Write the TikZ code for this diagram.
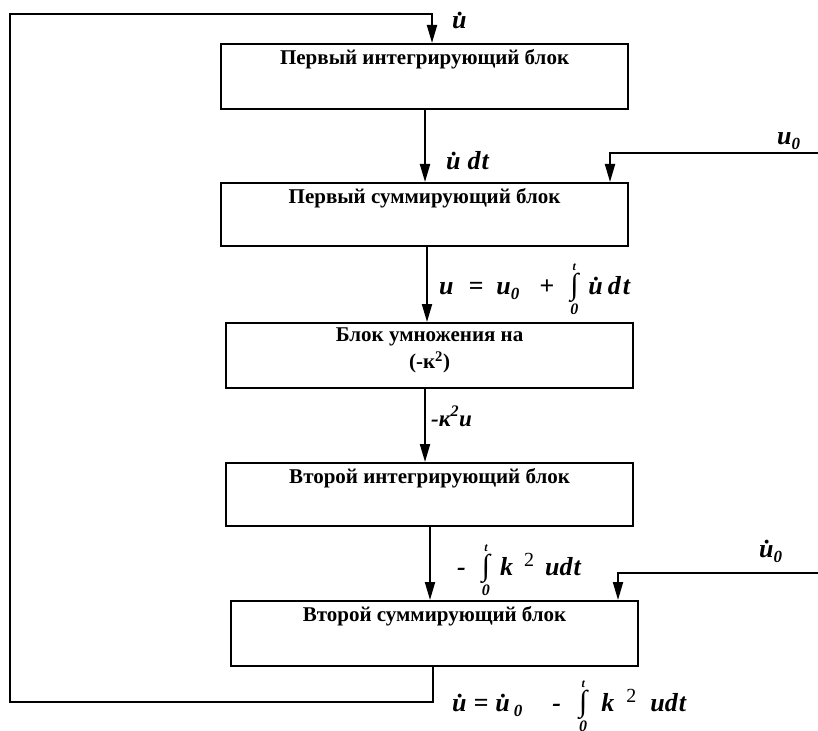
\documentclass[tikz,border=0pt]{standalone}
\usepackage{fontspec}
\setmainfont{Liberation Serif}
\usetikzlibrary{arrows.meta}
\newcommand\udot{\.{u}}
\newcommand\sbz{\raisebox{-5pt}{\fontsize{17}{17}\selectfont 0}}
\newcommand\myint{$\mathop{\hbox{\fontsize{30}{30}\selectfont\mdseries\upshape ∫}}\limits^{\hbox{\fontsize{12}{12}\selectfont\itshape t}}_{\hbox{\fontsize{16}{16}\selectfont\itshape 0}}$}
\newcommand\sqtwo{\raisebox{9pt}{\upshape\mdseries\fontsize{20}{20}\selectfont 2}}
\newcommand\bt[2]{\parbox[c][#1][t]{407pt}{\centering #2}}
\tikzset{
  blk/.style={draw, line width=2.2pt, anchor=north west, inner xsep=0pt, inner ysep=5pt,
    font=\bfseries\fontsize{21}{27}\selectfont},
  arr/.style={line width=2pt, line join=miter, -{Triangle[length=18pt,width=10pt]}},
  lab/.style={anchor=base west, inner sep=0pt, font=\bfseries\itshape\fontsize{26}{26}\selectfont},
}
\begin{document}
\begin{tikzpicture}[x=1pt,y=-1pt]
\useasboundingbox (0,0) rectangle (818,730);
% boxes
\node[blk] (b1) at (220,43) {\bt{55pt}{Первый интегрирующий блок}};
\node[blk] (b2) at (220,182) {\bt{53pt}{Первый суммирующий блок}};
\node[blk] (b3) at (225,322) {\bt{55pt}{Блок умножения на\\(-к\textsuperscript{2})}};
\node[blk] (b4) at (225,462) {\bt{53pt}{Второй интегрирующий блок}};
\node[blk] (b5) at (230,600) {\bt{55pt}{Второй суммирующий блок}};
% x positions of connectors
\coordinate (xin) at (432,0);
\coordinate (x12) at (425,0);
\coordinate (x23) at (427,0);
\coordinate (x34) at (425,0);
\coordinate (x45) at (430,0);
\coordinate (xout) at (433,0);
\coordinate (xa) at (610,0);
\coordinate (xb) at (618,0);
\coordinate (u0in) at (822,153);
\coordinate (ud0in) at (822,573);
\coordinate (fb1) at (433,702);
\coordinate (fb2) at (10,702);
\coordinate (fb3) at (10,14);
\coordinate (fb4) at (432,14);
% connectors
\draw[arr] (b1.south -| x12) -- (b2.north -| x12);
\draw[arr] (b2.south -| x23) -- (b3.north -| x23);
\draw[arr] (b3.south -| x34) -- (b4.north -| x34);
\draw[arr] (b4.south -| x45) -- (b5.north -| x45);
\draw[arr] (u0in) -| (b2.north -| xa);
\draw[arr] (ud0in) -| (b5.north -| xb);
\draw[arr] (b5.south -| xout) -- (fb1) -- (fb2) -- (fb3) -- (fb4) -- (b1.north -| xin);
% labels
\node[lab] (l0) at (452,29) {\udot};
\node[lab] (l1) at (446,169) {\udot\hspace{7pt}d\hspace{1pt}t};
\node[lab] (l2) at (777,145) {u\sbz};
\node[lab] (l3) at (439,294) {u\hspace{15pt}=\hspace{13pt}u\sbz\hspace{20pt}+\hspace{16pt}\myint\hspace{10pt}\udot\hspace{5pt}d\hspace{2pt}t};
\node[lab, font=\bfseries\itshape\fontsize{23}{23}\selectfont] (l4) at (431,426) {-к\textsuperscript{2}u};
\node[lab] (l5) at (457,575) {-\hspace{16pt}\myint\hspace{10pt}k\hspace{11pt}\sqtwo\hspace{11pt}ud\hspace{1pt}t};
\node[lab] (l6) at (759,557) {\udot\sbz};
\node[lab] (l7) at (452,711) {\udot\hspace{7pt}=\hspace{7pt}\udot\hspace{4pt}\sbz\hspace{30pt}-\hspace{18pt}\myint\hspace{14pt}k\hspace{12pt}\sqtwo\hspace{14pt}ud\hspace{1pt}t};
\end{tikzpicture}
\end{document}
